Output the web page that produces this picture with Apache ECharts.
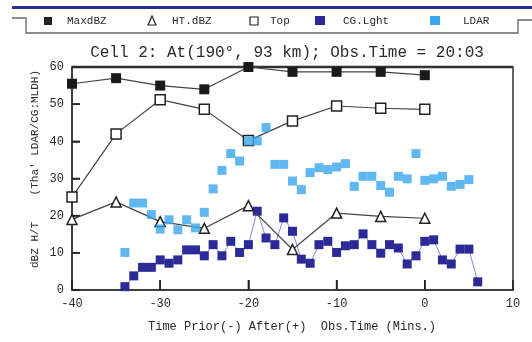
<!DOCTYPE html>
<html>
<head>
<meta charset="utf-8">
<script src="https://cdn.jsdelivr.net/npm/echarts@6/dist/echarts.min.js"></script>
<style>html,body{margin:0;padding:0;background:#fff}#c{width:532px;height:342px}</style>
</head>
<body>
<div id="c"></div>
<script>
// ---- data ----
const legendNames = ['MaxdBZ', 'HT.dBZ', 'Top', 'CG.Lght', 'LDAR'];
const radarTimes = [-40, -35, -30, -25, -20, -15, -10, -5, 0];
const maxDbz = [55.5, 57, 55, 54, 60, 58.7, 58.7, 58.7, 57.8];
const topKm = [25, 42, 51.2, 48.6, 40.2, 45.5, 49.5, 48.9, 48.6];
const htDbz = [19, 23.7, 18.4, 16.6, 22.7, 10.9, 20.7, 19.8, 19.3];
const cgTimes = [-34,-33,-32,-31,-30,-29,-28,-27,-26,-25,-24,-23,-22,-21,-20,-19,-18,-17,-16,-15,-14,-13,-12,-11,-10,-9,-8,-7,-6,-5,-4,-3,-2,-1,0,1,2,3,4,5,6];
const cgLght = [0.9,3.8,6.1,6.1,8.1,7.2,8.1,10.8,10.8,9.2,12.2,9.2,13.1,10.1,12.2,21.2,14,12.2,19.4,15.8,8.3,7.2,12.2,13.1,10.1,11.9,12.2,15.1,12.2,9.9,12.2,11.3,7.0,9.2,13.1,13.5,8.1,7.0,11,11,2.2];
const ldarTimes = [-34,-33,-32,-31,-30,-29,-28,-27,-26,-25,-24,-23,-22,-21,-20,-19,-18,-17,-16,-15,-14,-13,-12,-11,-10,-9,-8,-7,-6,-5,-4,-3,-2,-1,0,1,2,3,4,5];
const ldar = [10.1,23.4,23.4,20.3,16.4,18.9,16.2,18.9,16.7,20.9,27.2,32.2,36.7,34.7,40.1,40.1,43.7,33.8,33.8,29.3,27,31.6,32.9,32.4,33.1,34,27.9,30.6,30.6,28.1,26.3,30.6,29.9,36.7,29.5,29.9,30.6,27.9,28.4,29.7];
const xInnerTicks = [-30, -20, -10, 0];
const yInnerTicks = [10, 20, 30, 40, 50];
const titleText = 'Cell 2: At(190°, 93 km); Obs.Time = 20:03';
const xName = 'Time Prior(-) After(+)  Obs.Time (Mins.)';
const yName = 'dBZ H/T    (Tha\' LDAR/CG:MLDH)';

const zip = (xs, ys) => xs.map((x, i) => [x, ys[i]]);
const FONT = '"Liberation Mono", "DejaVu Sans Mono", monospace';
const INK = '#2a2a2a';
const CG_COLOR = '#2c2a96';
const LDAR_COLOR = '#3aa6ee';

const chart = echarts.init(document.getElementById('c'));

const legendX = [48, 152, 254, 320, 435];
const legendTX = [67, 172, 270, 343, 463];
const legendMarks = [
  {type:'rect', shape:{x:legendX[0]-4, y:17, width:8, height:8}, style:{fill:'#222'}},
  {type:'polygon', shape:{points:[[legendX[1],16],[legendX[1]-4,25],[legendX[1]+4,25]]}, style:{fill:'#fff', stroke:'#222', lineWidth:1.2}},
  {type:'rect', shape:{x:legendX[2]-4, y:17, width:8, height:8}, style:{fill:'#fff', stroke:'#222', lineWidth:1.2}},
  {type:'rect', shape:{x:legendX[3]-5, y:16, width:10, height:9}, style:{fill:CG_COLOR}},
  {type:'rect', shape:{x:legendX[4]-5, y:16, width:10, height:9}, style:{fill:LDAR_COLOR}}
];
const legendTexts = legendNames.map((n, i) => ({
  type:'text', x:legendTX[i], y:21,
  style:{text:n, font:'11px ' + FONT, fill:INK, textVerticalAlign:'middle', textAlign:'left'}
}));

const baseGraphic = [
  {type:'rect', shape:{x:12, y:6, width:520, height:3}, style:{fill:'#2d2d8f'}},
  {type:'polyline', shape:{points:[[12,18],[26,18],[26,33],[518,33],[518,20],[532,20]]}, style:{stroke:'#666', lineWidth:1.3, fill:null}},
  ...legendMarks,
  ...legendTexts,
  {type:'text', x:287, y:53, style:{text:titleText, font:'16px ' + FONT, fill:INK, textAlign:'center', textVerticalAlign:'middle'}},
  {type:'line', shape:{x1:72, y1:67, x2:513, y2:67}, style:{stroke:'#333', lineWidth:2.5}},
  {type:'text', x:292, y:327, style:{text:xName, font:'12px ' + FONT, fill:INK, textAlign:'center', textVerticalAlign:'middle'}},
  {type:'text', x:35, y:169, rotation: Math.PI/2, style:{text:yName, font:'11px ' + FONT, fill:INK, textAlign:'center', textVerticalAlign:'middle'}}
];

// tick descriptors: [axis (0 = x, 1 = y), value]
const tickData = xInnerTicks.map(v => [0, v]).concat(yInnerTicks.map(v => [1, v]));

chart.setOption({
  animation: false,
  backgroundColor: '#fff',
  grid: {left: 72, right: 19, top: 67, bottom: 52, show: true, borderColor: '#333', borderWidth: 1.5, backgroundColor: 'transparent'},
  xAxis: {
    type: 'value', min: -40, max: 10, interval: 10,
    axisLine: {show: true, onZero: false, lineStyle: {color: '#333', width: 1.5}},
    axisTick: {show: true, inside: true, length: 10, lineStyle: {color: '#222', width: 1.5}},
    axisLabel: {color: INK, fontFamily: FONT, fontSize: 12, margin: 8},
    splitLine: {show: false}
  },
  yAxis: {
    type: 'value', min: 0, max: 60, interval: 10,
    axisLine: {show: true, onZero: false, lineStyle: {color: '#333', width: 1.5}},
    axisTick: {show: true, inside: true, length: 8, lineStyle: {color: '#222', width: 1.5}},
    axisLabel: {color: INK, fontFamily: FONT, fontSize: 12, margin: 8},
    splitLine: {show: false}
  },
  graphic: baseGraphic,
  series: [
    {name: 'MaxdBZ', type: 'line', data: zip(radarTimes, maxDbz), symbol: 'rect', symbolSize: 10,
      itemStyle: {color: '#1a1a1a'}, lineStyle: {color: '#444', width: 1.2}, z: 3},
    {name: 'Top', type: 'line', data: zip(radarTimes, topKm), symbol: 'rect', symbolSize: 10,
      itemStyle: {color: '#fff', borderColor: '#222', borderWidth: 1.5}, lineStyle: {color: '#444', width: 1.2}, z: 3},
    {name: 'HT.dBZ', type: 'line', data: zip(radarTimes, htDbz), symbol: 'triangle', symbolSize: 10,
      itemStyle: {color: '#fff', borderColor: '#222', borderWidth: 1.5}, lineStyle: {color: '#444', width: 1.2}, z: 3},
    {name: 'CG.Lght', type: 'line', data: zip(cgTimes, cgLght), symbol: 'rect', symbolSize: 9,
      itemStyle: {color: CG_COLOR}, lineStyle: {color: '#6a6ac4', width: 0.8}, z: 2},
    {name: 'LDAR', type: 'scatter', data: zip(ldarTimes, ldar), symbol: 'rect', symbolSize: 9,
      itemStyle: {color: LDAR_COLOR}, z: 4},
    {name: 'ticks', type: 'custom', silent: true, clip: false, z: 10,
      data: tickData,
      encode: {x: -1, y: -1},
      renderItem: function (params, api) {
        const which = api.value(0);
        const v = api.value(1);
        if (which === 0) {
          const p = api.coord([v, 0]);
          return {type: 'line', shape: {x1: p[0], y1: p[1], x2: p[0], y2: p[1] - 10},
            style: {stroke: '#222', lineWidth: 1.5}};
        }
        const p = api.coord([-40, v]);
        return {type: 'line', shape: {x1: p[0], y1: p[1], x2: p[0] + 8, y2: p[1]},
          style: {stroke: '#222', lineWidth: 1.5}};
      }
    }
  ]
});
</script>
</body>
</html>
